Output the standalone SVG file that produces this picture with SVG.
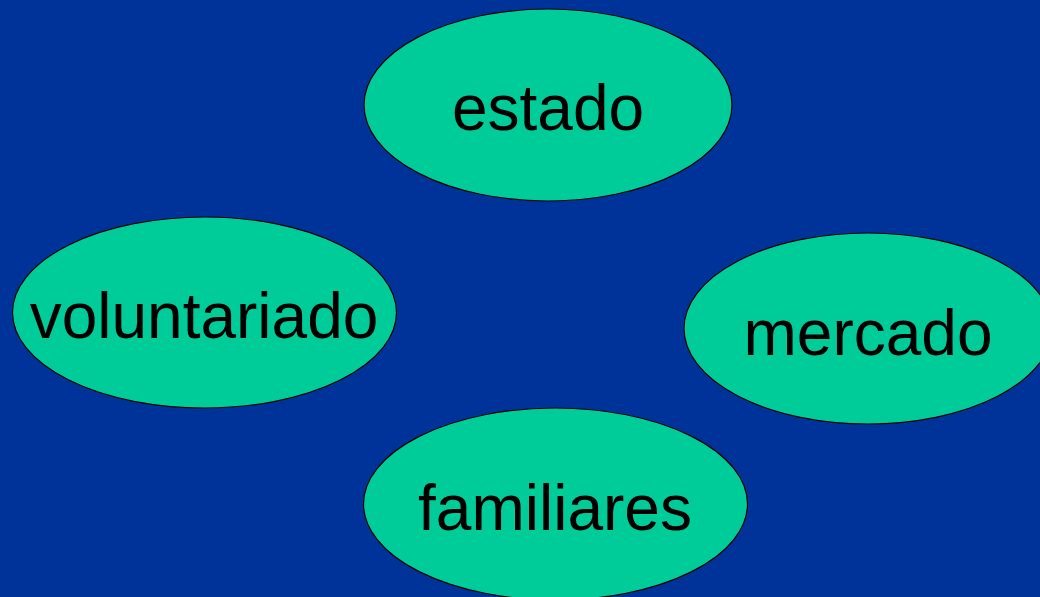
<svg xmlns="http://www.w3.org/2000/svg" width="1040" height="597" viewBox="0 0 1040 597">
<style>
.n{fill:#00CC99;stroke:#000;stroke-width:1.2}
.t{font-family:"Liberation Sans",Arial,sans-serif;font-size:64px;fill:#000;text-anchor:middle}
</style>
<rect width="1040" height="597" fill="#003399"/>
<g id="connectors"></g>
<g id="estado"><ellipse class="n" cx="548" cy="105" rx="184" ry="96"/><text class="t" x="548" y="130">estado</text></g>
<g id="voluntariado"><ellipse class="n" cx="204.5" cy="312.5" rx="192" ry="95.5"/><text class="t" x="204" y="338">voluntariado</text></g>
<g id="mercado"><ellipse class="n" cx="868" cy="328.5" rx="184" ry="95.5"/><text class="t" x="868" y="355">mercado</text></g>
<g id="familiares"><ellipse class="n" cx="555.5" cy="504" rx="192" ry="96"/><text class="t" x="555" y="530">familiares</text></g>
</svg>
